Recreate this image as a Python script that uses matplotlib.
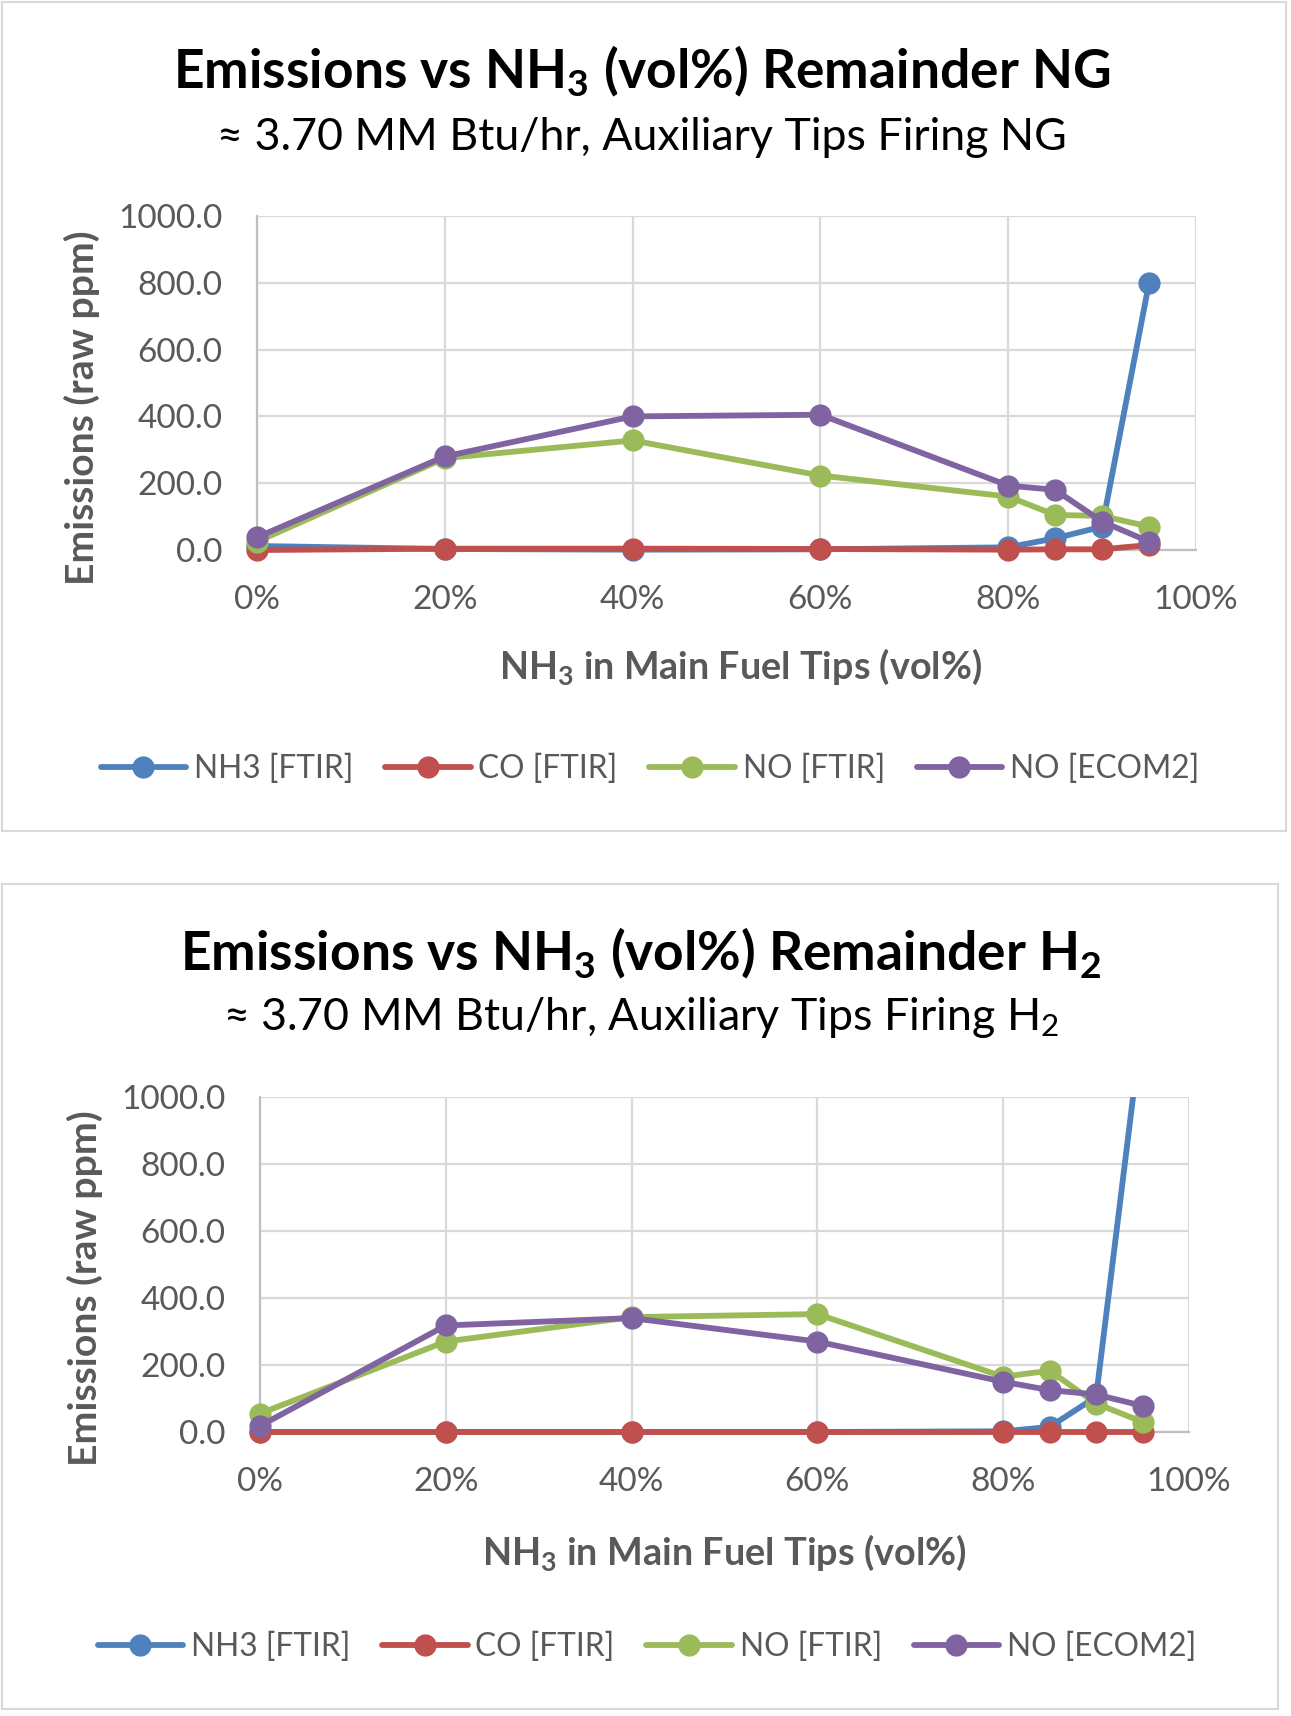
import numpy as np
import matplotlib
matplotlib.use("Agg")
import matplotlib.pyplot as plt
from matplotlib.patches import Rectangle
from matplotlib.ticker import FuncFormatter, MultipleLocator

plt.rcParams['font.family'] = ['Lato', 'DejaVu Sans']
plt.rcParams['mathtext.default'] = 'regular'

# ---------------- data ----------------
nh3_pct = [0, 20, 40, 60, 80, 85, 90, 95]
series_names = ["NH3 [FTIR]", "CO [FTIR]", "NO [FTIR]", "NO [ECOM2]"]

# Remainder NG
ng_nh3 = [12, 3, 1, 2, 8, 35, 70, 800]
ng_co = [0, 4, 4, 3, 1, 2, 2, 15]
ng_no_ftir = [25, 275, 328, 223, 160, 105, 102, 70]
ng_no_ecom2 = [38, 280, 400, 405, 193, 180, 85, 25]

# Remainder H2
h2_nh3 = [0, 0, 0, 0, 2, 15, 105, 1230]
h2_co = [0, 0, 0, 0, 0, 0, 0, 0]
h2_no_ftir = [55, 270, 343, 352, 165, 183, 85, 30]
h2_no_ecom2 = [18, 318, 340, 270, 150, 125, 112, 78]

colors = ["#4F81BD", "#C0504D", "#9BBB59", "#8064A2"]

W, H = 1291, 1716
fig = plt.figure(figsize=(W / 100, H / 100), dpi=100)
renderer = fig.canvas.get_renderer()


def fx(x):
    return x / W


def fy(y):
    return 1 - y / H


def fit_text(x, y, s, target, rotation=0, **kw):
    t = fig.text(fx(x), fy(y), s, ha='center', va='center', rotation=rotation,
                 fontsize=20, **kw)
    bb = t.get_window_extent(renderer)
    cur = bb.height if rotation == 90 else bb.width
    t.set_fontsize(20 * target / cur)
    return t


def make_chart(box, plot, title, subtitle, title_w, sub_w, title_y, sub_y,
               xlab, ylab, legend_c, data):
    bx0, by0, bx1, by1 = box
    fig.patches.append(Rectangle((fx(bx0), fy(by1)), fx(bx1 - bx0), (by1 - by0) / H,
                                 transform=fig.transFigure, fill=False,
                                 edgecolor="#d9d9d9", linewidth=1.5))
    px0, py0, px1, py1 = plot
    ax = fig.add_axes([fx(px0), fy(py1), fx(px1 - px0), (py1 - py0) / H])
    clip = Rectangle((-0.2, -0.3), 1.4, 1.3, transform=ax.transAxes)
    for vals, c, name in zip(data, colors, series_names):
        ln, = ax.plot(nh3_pct, vals, color=c, lw=4.2, marker='o', markersize=16,
                      markeredgewidth=0, label=name, solid_capstyle='round',
                      clip_on=True, zorder=3)
        ln.set_clip_path(clip)
    ax.set_xlim(0, 100)
    ax.set_ylim(0, 1000)
    ax.xaxis.set_major_locator(MultipleLocator(20))
    ax.yaxis.set_major_locator(MultipleLocator(200))
    ax.xaxis.set_major_formatter(FuncFormatter(lambda v, p: f"{v:.0f}%"))
    ax.yaxis.set_major_formatter(FuncFormatter(lambda v, p: f"{v:.1f}"))
    ax.grid(True, color="#d9d9d9", lw=1.6)
    ax.set_axisbelow(True)
    for s in ['top', 'right']:
        ax.spines[s].set_visible(False)
    for s in ['left', 'bottom']:
        ax.spines[s].set_color("#bfbfbf")
        ax.spines[s].set_linewidth(1.6)
        ax.spines[s].set_zorder(1)
    ax.tick_params(length=0, labelsize=24, labelcolor="#595959")
    ax.tick_params(axis='x', pad=25)
    ax.tick_params(axis='y', pad=25)

    fit_text(title[0], title_y, title[1], title_w, fontweight='bold', color='black')
    fit_text(subtitle[0], sub_y, subtitle[1], sub_w, color='black')
    fit_text(xlab[0], xlab[1], "NH$_3$ in Main Fuel Tips (vol%)", xlab[2],
             fontweight='bold', color="#595959")
    fit_text(ylab[0], ylab[1], "Emissions (raw ppm)", ylab[2], rotation=90,
             fontweight='bold', color="#595959")
    leg = ax.legend(loc='center', bbox_to_anchor=(fx(legend_c[0]), fy(legend_c[1])),
                    bbox_transform=fig.transFigure, ncol=4, frameon=False,
                    fontsize=22.8, handlelength=2.7, handletextpad=0.25,
                    columnspacing=1.0, borderpad=0)
    for t in leg.get_texts():
        t.set_color("#595959")
    return ax


make_chart(box=(2, 2, 1286, 831), plot=(257, 216, 1196, 550),
           title=(642, "Emissions vs NH$_3$ (vol%) Remainder NG"),
           subtitle=(642, "\u2248 3.70 MM Btu/hr, Auxiliary Tips Firing NG"),
           title_w=939, sub_w=851, title_y=71, sub_y=137,
           xlab=(740, 667, 484), ylab=(82, 408, 355), legend_c=(650, 769),
           data=[ng_nh3, ng_co, ng_no_ftir, ng_no_ecom2])

make_chart(box=(2, 884, 1278, 1709), plot=(260, 1097, 1189, 1432),
           title=(641, "Emissions vs NH$_3$ (vol%) Remainder H$_2$"),
           subtitle=(641, "\u2248 3.70 MM Btu/hr, Auxiliary Tips Firing H$_2$"),
           title_w=922, sub_w=837, title_y=952, sub_y=1017,
           xlab=(724, 1553, 485), ylab=(85, 1288, 356), legend_c=(647, 1647),
           data=[h2_nh3, h2_co, h2_no_ftir, h2_no_ecom2])

fig.savefig("out.png", dpi=100, facecolor='white')
